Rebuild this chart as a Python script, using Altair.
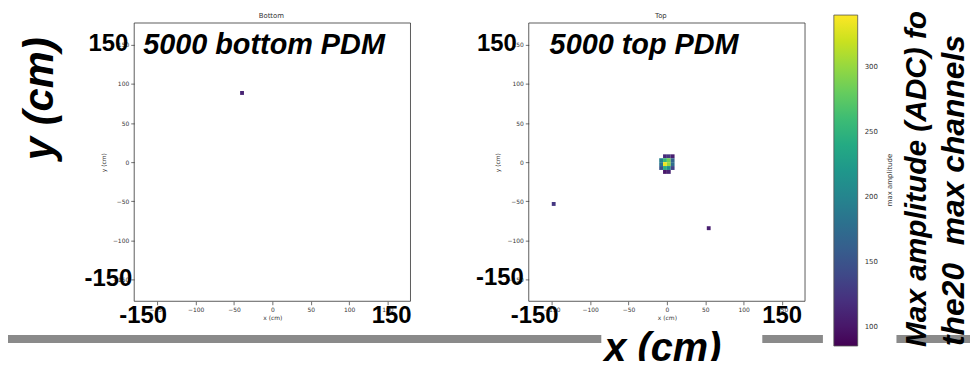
import altair as alt
import pandas as pd

# ---------------- data ----------------
# lower-left corner of each 5 cm cell (cm) and its max amplitude (ADC)
bottom_x = [-42]
bottom_y = [86]
bottom_amp = [110]

top_x = [-5, 0, 5, -10, -5, 0, 5, -10, -5, 0, 5, -10, -5, 0, 5, -5, 0, -150, 52]
top_y = [5, 5, 5, 0, 0, 0, 0, -5, -5, -5, -5, -10, -10, -10, -10, -15, -15, -56, -87]
top_amp = [115, 125, 105, 195, 255, 285, 165, 185, 335, 300, 175, 150, 245, 210, 135, 100, 110, 125, 105]

CELL = 5
axis_ticks = [-150, -100, -50, 0, 50, 100, 150]
cbar_ticks = [100, 150, 200, 250, 300]
amp_domain = [85, 340]
x_domain = [-180, 180]
y_domain = [-178, 178]

W, H = 968, 353
BIG = "Liberation Sans"
SMALL = "DejaVu Sans"

legend = alt.Legend(
    orient="none", legendX=831, legendY=6, direction="vertical",
    gradientLength=333, gradientThickness=24, values=cbar_ticks,
    title=None,
    labelFontSize=7, labelFont=SMALL, labelColor="#333", labelOffset=7,
    gradientStrokeColor="#555", gradientStrokeWidth=0.8, padding=0,
)
color_scale = alt.Scale(scheme="viridis", domain=amp_domain)


def panel(xs, ys, amps, x_range):
    df = pd.DataFrame({"x": xs, "y": ys, "amp": amps})
    df["x2"] = df["x"] + CELL
    df["y2"] = df["y"] + CELL
    xscale = alt.Scale(domain=x_domain, range=x_range, nice=False, zero=False)
    yscale = alt.Scale(domain=y_domain, range=[294, 14], nice=False, zero=False)
    common = dict(domain=False, grid=False, values=axis_ticks, tickSize=3.5,
                  tickColor="#333", tickWidth=0.7, labelFont=SMALL, labelFontSize=6,
                  labelColor="#333", labelPadding=2, titleFont=SMALL, titleFontSize=6,
                  titleFontWeight="normal", titleColor="#333")
    xaxis = alt.Axis(orient="bottom", offset=-(H - 294), title="x (cm)", titlePadding=2, **common)
    yaxis = alt.Axis(orient="left", offset=-x_range[0], title="y (cm)", titlePadding=6, **common)
    heat = alt.Chart(df).mark_rect().encode(
        x=alt.X("x:Q", scale=xscale, axis=xaxis),
        x2="x2:Q",
        y=alt.Y("y:Q", scale=yscale, axis=yaxis),
        y2="y2:Q",
        color=alt.Color("amp:Q", scale=color_scale, legend=legend),
    )
    frame = alt.Chart().mark_rect(filled=False, stroke="#333", strokeWidth=0.8).encode(
        x=alt.datum(x_domain[0]), x2=alt.datum(x_domain[1]),
        y=alt.datum(y_domain[0]), y2=alt.datum(y_domain[1]),
    )
    return alt.layer(heat, frame)


def txt(s, x, y, size, align="left", italic=True, angle=0, font=BIG, bold=True,
        color="black", baseline="alphabetic"):
    kw = dict(text=s, fontSize=size, align=align, baseline=baseline, font=font,
              color=color, angle=angle)
    if bold:
        kw["fontWeight"] = "bold"
    if italic:
        kw["fontStyle"] = "italic"
    return alt.Chart().mark_text(**kw).encode(x=alt.value(x), y=alt.value(y))


def bar(x0, x1):
    return alt.Chart().mark_rect(color="#8a8a8a").encode(
        x=alt.value(x0), x2=alt.value(x1), y=alt.value(328), y2=alt.value(336))


panel_bottom = panel(bottom_x, bottom_y, bottom_amp, [127, 405])
panel_top = panel(top_x, top_y, top_amp, [524, 802])

texts = [
    txt("Bottom", 265, 7, 7, align="center", italic=False, bold=False, font=SMALL,
        color="#333", baseline="middle"),
    txt("Top", 657, 7, 7, align="center", italic=False, bold=False, font=SMALL,
        color="#333", baseline="middle"),
    txt("max amplitude", 888, 172, 7, align="center", italic=False, bold=False,
        font=SMALL, color="#333", baseline="middle", angle=270),
    txt("5000 bottom PDM", 136, 45, 29),
    txt("5000 top PDM", 545, 45, 29),
    txt("150", 121, 42, 24, align="right", italic=False),
    txt("-150", 125, 279, 24, align="right", italic=False),
    txt("-150", 136, 316, 24, align="center", italic=False),
    txt("150", 386, 316, 24, align="center", italic=False),
    txt("150", 512, 42, 24, align="right", italic=False),
    txt("-150", 519, 278, 24, align="right", italic=False),
    txt("-150", 530, 316, 24, align="center", italic=False),
    txt("150", 779, 316, 24, align="center", italic=False),
    txt("x (cm)", 600, 354, 40),
    txt("y (cm)", 45, 152, 42, angle=270),
    txt("Max amplitude (ADC) fo", 924, 340, 30, angle=270),
    txt("the20\u00a0 max channels", 962, 339, 32, angle=270),
]

bars = [bar(0, 597), bar(759, 820), bar(894, 970)]

chart = alt.layer(
    *bars, panel_bottom, panel_top, *texts
).resolve_scale(
    x="independent", y="independent"
).properties(
    width=W, height=H, padding=0,
    autosize=alt.AutoSizeParams(type="none"),
).configure_view(strokeWidth=0)

chart.save("out.html", embed_options={"renderer": "svg", "actions": False})
